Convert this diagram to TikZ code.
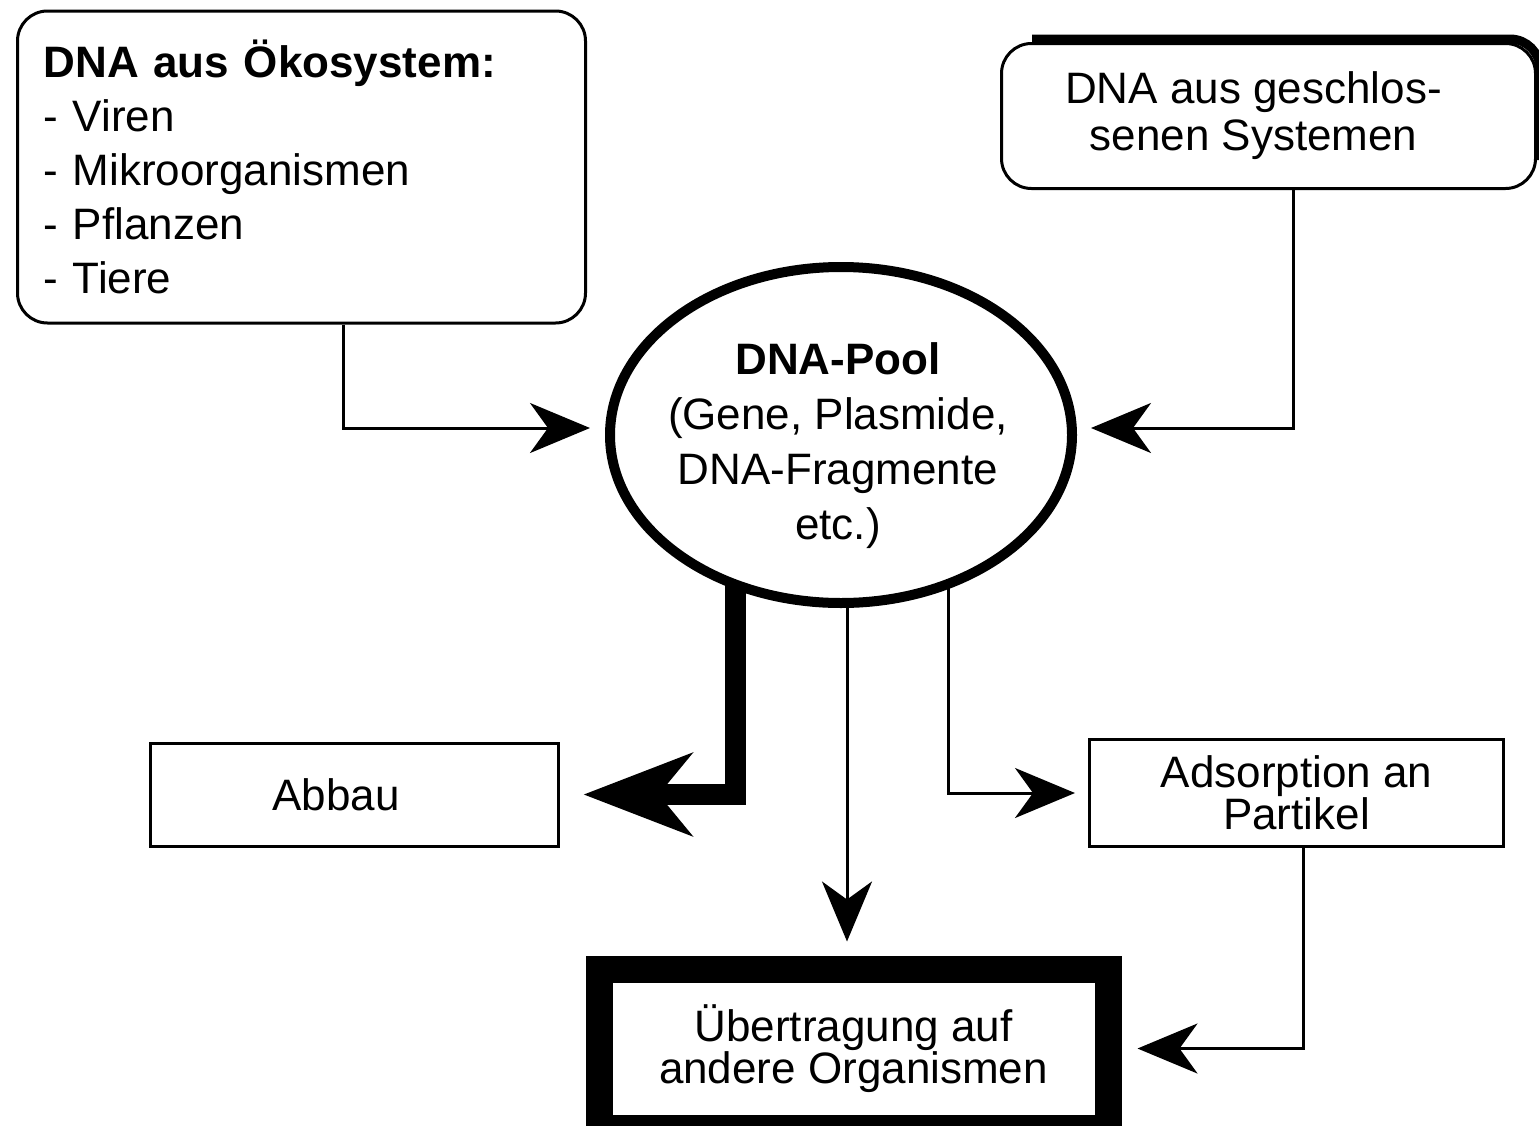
\documentclass[tikz,border=0pt]{standalone}
\usepackage{fontspec}
\setmainfont{Liberation Sans}
\usetikzlibrary{arrows.meta,shapes.geometric,calc}
\begin{document}
\begin{tikzpicture}[x=1pt,y=-1pt,
  box/.style={draw, line width=3pt, fill=white, inner sep=0pt, align=center},
  rbox/.style={box, rounded corners=30pt},
  conn/.style={line width=3pt, line join=miter, -{Stealth[length=60pt,width=50pt,inset=18pt]}},
  bigconn/.style={line width=21pt, line join=miter, -{Stealth[length=108pt,width=82pt,inset=33pt]}},
  tx/.style={font=\fontsize{44}{#1}\selectfont},
  tx/.default=53
]
\useasboundingbox (0,0) rectangle (1539,1125);
\clip (0,0) rectangle (1539,1125);
\fill[white] (0,0) rectangle (1539,1125);

% boxes
\node[rbox, minimum width=568pt, minimum height=312pt, text width=516pt, align=left, tx=54] (eco) at (301.5,167)
  {\textbf{DNA aus Ökosystem:}\\- Viren\\- Mikroorganismen\\- Pflanzen\\- Tiere};
\node[rbox, minimum width=534pt, minimum height=145pt, tx=47] (sys) at (1268.5,116)
  {DNA aus geschlos-\hspace*{30pt}\\senen Systemen\hspace*{30pt}};
\draw[line width=9pt, rounded corners=30pt]
  ($(sys.north west)+(32,-3)$) -- ($(sys.north east)+(3,-3)$) -- ($(sys.south east)+(3,-30)$);

\node[ellipse, draw, line width=10pt, fill=white, minimum width=462pt, minimum height=336pt, inner sep=0pt] (pool) at (841,435) {};
\node[align=center, inner sep=0pt, tx=55] (pooltext) at (838,446)
  {\textbf{DNA-Pool}\\(Gene, Plasmide,\\DNA-Fragmente\\etc.)};

\node[box, minimum width=408pt, minimum height=103pt, tx] (abbau) at (354,794.5) {Abbau\hspace*{36pt}};
\node[box, minimum width=414pt, minimum height=107pt, tx=42] (ads) at (1296.5,793) {Adsorption an\\Partikel};
\node[box, line width=27pt, minimum width=509pt, minimum height=159pt, tx=42] (uber) at (853.5,1048.5)
  {Übertragung auf\\andere Organismen};

% helper coordinates
\coordinate (c1) at (343,0);
\coordinate (c2) at (1293,0);
\coordinate (s3) at (735,584);
\coordinate (c4) at (847,0);
\coordinate (s5) at (948,584);
\coordinate (c6) at (1303,0);

% connectors
\draw[conn, shorten >=15pt] (c1 |- eco.south) |- ([yshift=7pt]pool.west);
\draw[conn, shorten >=14pt] (c2 |- sys.south) |- ([yshift=7pt]pool.east);
\draw[bigconn, shorten >=24pt] (s3) |- (abbau.east);
\draw[conn, shorten >=14pt] (c4 |- pool.south) -- (c4 |- uber.north);
\draw[conn, shorten >=13pt] (s5) |- (ads.west);
\draw[conn, shorten >=16pt] (c6 |- ads.south) |- (uber.east);
\end{tikzpicture}
\end{document}
